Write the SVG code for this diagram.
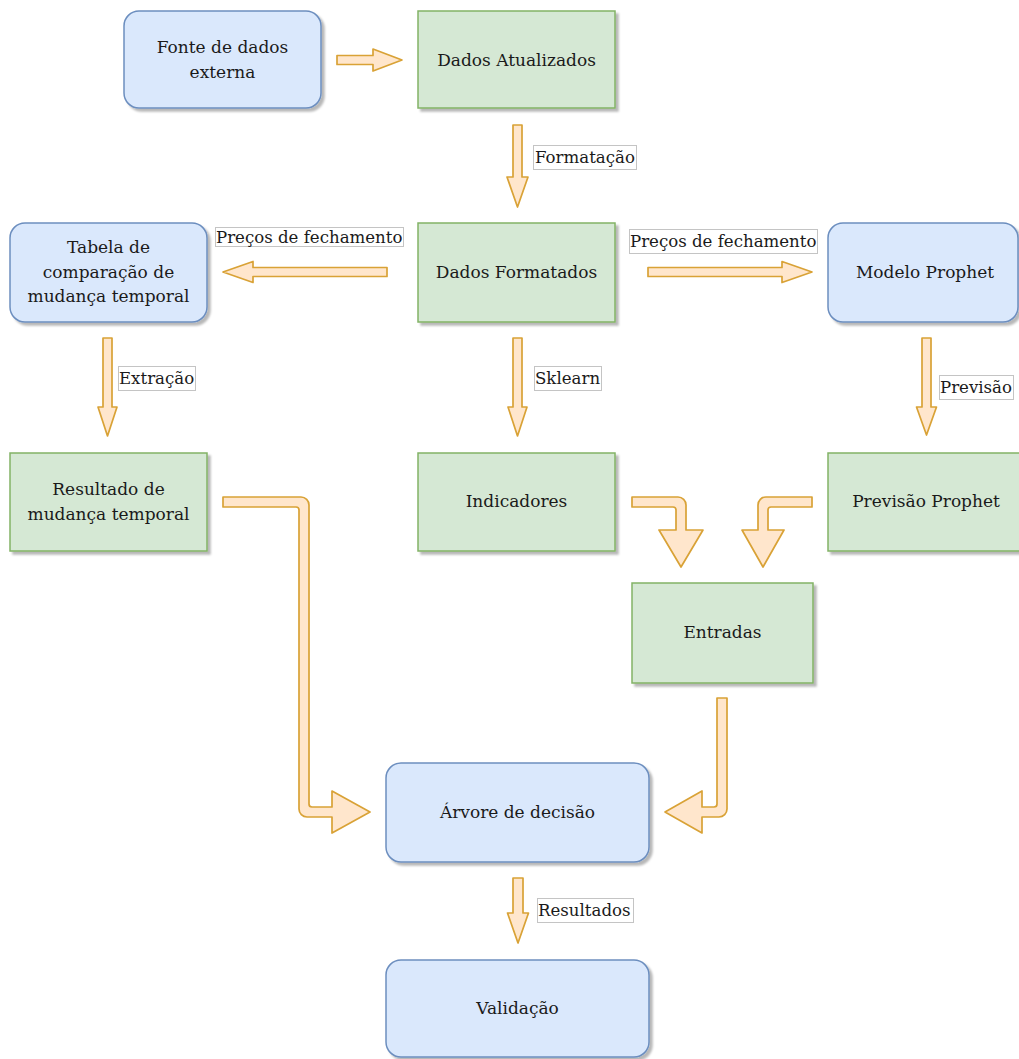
<svg xmlns="http://www.w3.org/2000/svg" width="1019" height="1059" viewBox="0 0 1019 1059">
<defs>
<filter id="sh" x="-10%" y="-10%" width="130%" height="130%">
<feDropShadow dx="3" dy="3" stdDeviation="1" flood-color="#000" flood-opacity="0.28"/>
</filter>
<style>
.blue{fill:#dae8fc;stroke:#6c8ebf;stroke-width:1.5;filter:url(#sh)}
.green{fill:#d5e8d4;stroke:#82b366;stroke-width:1.5;filter:url(#sh)}
.t{font-family:"DejaVu Serif","Liberation Serif",serif;font-size:17px;fill:#1a1a1a;text-anchor:middle;dominant-baseline:central}
.lbl{fill:#fff;stroke:#c4c4c4;stroke-width:1}
.lt{font-family:"DejaVu Serif","Liberation Serif",serif;font-size:16.6px;fill:#1a1a1a;dominant-baseline:central}
.arr{fill:#ffe6cc;stroke:#d9a236;stroke-width:1.7;stroke-linejoin:round}
</style>
</defs>
<rect width="1019" height="1059" fill="#fff"/>

<g id="connectors">
<path class="arr" d="M337,55.5 H373 V49 L402,60 L373,71 V64.5 H337 Z"/>
<path class="arr" d="M513,125 H522 V177 H528 L517.5,207 L507,177 H513 Z"/>
<path class="arr" d="M387,267.5 V276.5 H253 V282.5 L223,272 L253,261.5 V267.5 Z"/>
<path class="arr" d="M648,267.5 H782 V261.5 L812,272 L782,282.5 V276.5 H648 Z"/>
<path class="arr" d="M103,338 H112 V407 H117 L107.5,436 L98,407 H103 Z"/>
<path class="arr" d="M513,338 H522 V407 H527 L517.5,436 L508,407 H513 Z"/>
<path class="arr" d="M922,338 H931 V407 H936.5 L926.5,435 L916.5,407 H922 Z"/>
<path class="arr" d="M223,497 H301 A8,8 0 0 1 309,505 V804 A3,3 0 0 0 312,807 H332 V791 L370,812 L332,833 V817 H307 A8,8 0 0 1 299,809 V510 A3,3 0 0 0 296,507 H223 Z"/>
<path class="arr" d="M632,497 H678 A8,8 0 0 1 686,505 V530 H703 L681,567 L659,530 H676 V510 A3,3 0 0 0 673,507 H632 Z"/>
<path class="arr" d="M812,497 H766 A8,8 0 0 0 758,505 V530 H742 L763,567 L784,530 H768 V510 A3,3 0 0 1 771,507 H812 Z"/>
<path class="arr" d="M717,698 H727 V809 A8,8 0 0 1 719,817 H702 V833 L665,812 L702,791 V807 H714 A3,3 0 0 0 717,804 Z"/>
<path class="arr" d="M513,878 H523 V913 H528.5 L518,943 L507.5,913 H513 Z"/>

<rect class="lbl" x="533.5" y="145.5" width="103" height="24"/>
<text class="lt" x="535" y="157.5">Formatação</text>
<rect class="lbl" x="215.5" y="227.5" width="188" height="19"/>
<text class="lt" x="216" y="237">Preços de fechamento</text>
<rect class="lbl" x="629.5" y="229.5" width="188" height="24"/>
<text class="lt" x="630" y="241">Preços de fechamento</text>
<rect class="lbl" x="118.5" y="366.5" width="77" height="24"/>
<text class="lt" x="119" y="378.5">Extração</text>
<rect class="lbl" x="534.5" y="366.5" width="67" height="24"/>
<text class="lt" x="535" y="378.5">Sklearn</text>
<rect class="lbl" x="939.5" y="375.5" width="74" height="24"/>
<text class="lt" x="940" y="387.5">Previsão</text>
<rect class="lbl" x="537.5" y="898.5" width="96" height="24"/>
<text class="lt" x="538" y="910.5">Resultados</text>
</g>

<g id="fonte">
<rect class="blue" x="124" y="11" width="197" height="97" rx="15"/>
<text class="t" x="222.5" y="47">Fonte de dados</text>
<text class="t" x="222.5" y="72">externa</text>
</g>
<g id="dados-atualizados">
<rect class="green" x="418" y="11" width="197" height="97"/>
<text class="t" x="516.5" y="59.5">Dados Atualizados</text>
</g>
<g id="tabela">
<rect class="blue" x="10" y="223" width="197" height="99" rx="15"/>
<text class="t" x="108.5" y="247">Tabela de</text>
<text class="t" x="108.5" y="271.5">comparação de</text>
<text class="t" x="108.5" y="296">mudança temporal</text>
</g>
<g id="dados-formatados">
<rect class="green" x="418" y="223" width="197" height="99"/>
<text class="t" x="516.5" y="272">Dados Formatados</text>
</g>
<g id="modelo-prophet">
<rect class="blue" x="828" y="223" width="190" height="99" rx="15"/>
<text class="t" x="925" y="272">Modelo Prophet</text>
</g>
<g id="resultado">
<rect class="green" x="10" y="453" width="197" height="98"/>
<text class="t" x="108.5" y="489">Resultado de</text>
<text class="t" x="108.5" y="514">mudança temporal</text>
</g>
<g id="indicadores">
<rect class="green" x="418" y="453" width="197" height="98"/>
<text class="t" x="516.5" y="501">Indicadores</text>
</g>
<g id="previsao-prophet">
<rect class="green" x="828" y="453" width="192" height="98"/>
<text class="t" x="926" y="501">Previsão Prophet</text>
</g>
<g id="entradas">
<rect class="green" x="632" y="583" width="181" height="100"/>
<text class="t" x="722.5" y="632">Entradas</text>
</g>
<g id="arvore">
<rect class="blue" x="386" y="763" width="263" height="99" rx="15"/>
<text class="t" x="517.5" y="812">Árvore de decisão</text>
</g>
<g id="validacao">
<rect class="blue" x="386" y="960" width="263" height="97" rx="15"/>
<text class="t" x="517.5" y="1008">Validação</text>
</g>
</svg>
